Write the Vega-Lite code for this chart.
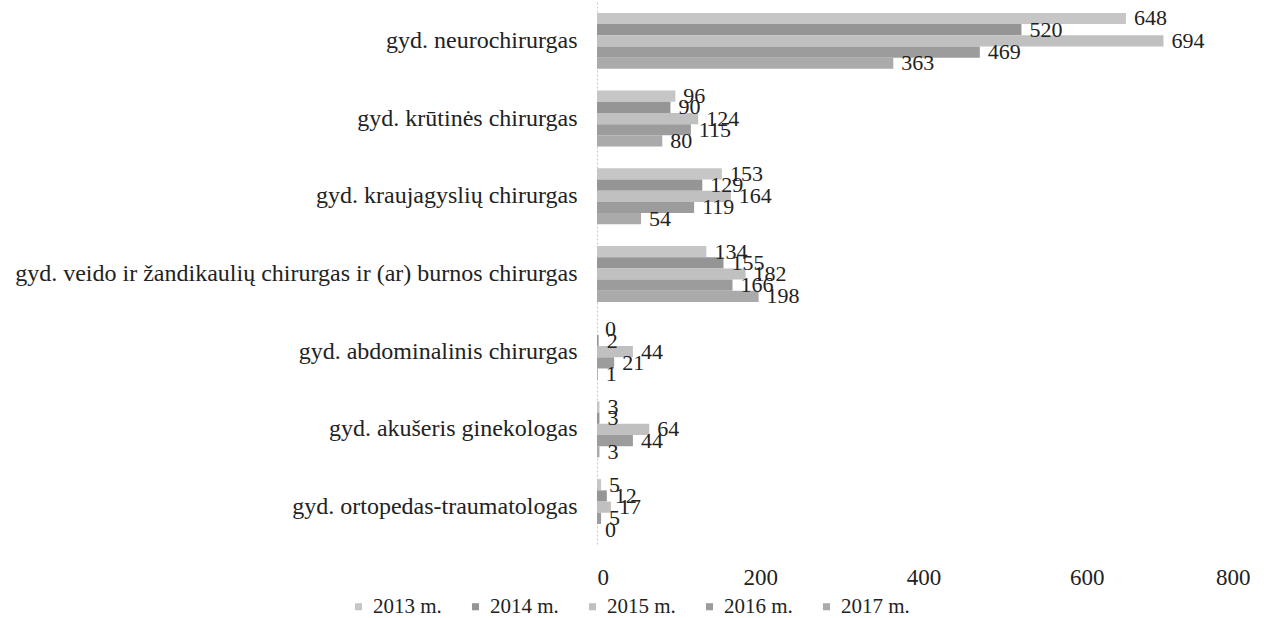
{
  "$schema": "https://vega.github.io/schema/vega-lite/v6.json",
  "autosize": {"type": "none"},
  "padding": {"left": 597, "top": 2, "right": 24, "bottom": 72},
  "width": 653,
  "height": 544,
  "background": "white",
  "config": {
    "font": "Liberation Serif",
    "view": {"stroke": null}
  },
  "data": {
    "values": [
      {"spec": "gyd. neurochirurgas", "year": "2013 m.", "v": 648},
      {"spec": "gyd. neurochirurgas", "year": "2014 m.", "v": 520},
      {"spec": "gyd. neurochirurgas", "year": "2015 m.", "v": 694},
      {"spec": "gyd. neurochirurgas", "year": "2016 m.", "v": 469},
      {"spec": "gyd. neurochirurgas", "year": "2017 m.", "v": 363},
      {"spec": "gyd. krūtinės chirurgas", "year": "2013 m.", "v": 96},
      {"spec": "gyd. krūtinės chirurgas", "year": "2014 m.", "v": 90},
      {"spec": "gyd. krūtinės chirurgas", "year": "2015 m.", "v": 124},
      {"spec": "gyd. krūtinės chirurgas", "year": "2016 m.", "v": 115},
      {"spec": "gyd. krūtinės chirurgas", "year": "2017 m.", "v": 80},
      {"spec": "gyd. kraujagyslių chirurgas", "year": "2013 m.", "v": 153},
      {"spec": "gyd. kraujagyslių chirurgas", "year": "2014 m.", "v": 129},
      {"spec": "gyd. kraujagyslių chirurgas", "year": "2015 m.", "v": 164},
      {"spec": "gyd. kraujagyslių chirurgas", "year": "2016 m.", "v": 119},
      {"spec": "gyd. kraujagyslių chirurgas", "year": "2017 m.", "v": 54},
      {"spec": "gyd. veido ir žandikaulių chirurgas ir (ar) burnos chirurgas", "year": "2013 m.", "v": 134},
      {"spec": "gyd. veido ir žandikaulių chirurgas ir (ar) burnos chirurgas", "year": "2014 m.", "v": 155},
      {"spec": "gyd. veido ir žandikaulių chirurgas ir (ar) burnos chirurgas", "year": "2015 m.", "v": 182},
      {"spec": "gyd. veido ir žandikaulių chirurgas ir (ar) burnos chirurgas", "year": "2016 m.", "v": 166},
      {"spec": "gyd. veido ir žandikaulių chirurgas ir (ar) burnos chirurgas", "year": "2017 m.", "v": 198},
      {"spec": "gyd. abdominalinis chirurgas", "year": "2013 m.", "v": 0},
      {"spec": "gyd. abdominalinis chirurgas", "year": "2014 m.", "v": 2},
      {"spec": "gyd. abdominalinis chirurgas", "year": "2015 m.", "v": 44},
      {"spec": "gyd. abdominalinis chirurgas", "year": "2016 m.", "v": 21},
      {"spec": "gyd. abdominalinis chirurgas", "year": "2017 m.", "v": 1},
      {"spec": "gyd. akušeris ginekologas", "year": "2013 m.", "v": 3},
      {"spec": "gyd. akušeris ginekologas", "year": "2014 m.", "v": 3},
      {"spec": "gyd. akušeris ginekologas", "year": "2015 m.", "v": 64},
      {"spec": "gyd. akušeris ginekologas", "year": "2016 m.", "v": 44},
      {"spec": "gyd. akušeris ginekologas", "year": "2017 m.", "v": 3},
      {"spec": "gyd. ortopedas-traumatologas", "year": "2013 m.", "v": 5},
      {"spec": "gyd. ortopedas-traumatologas", "year": "2014 m.", "v": 12},
      {"spec": "gyd. ortopedas-traumatologas", "year": "2015 m.", "v": 17},
      {"spec": "gyd. ortopedas-traumatologas", "year": "2016 m.", "v": 5},
      {"spec": "gyd. ortopedas-traumatologas", "year": "2017 m.", "v": 0}
    ]
  },
  "encoding": {
    "y": {
      "field": "spec", "type": "nominal", "sort": null, "title": null,
      "scale": {"paddingInner": 0.28, "paddingOuter": 0.14},
      "axis": {"ticks": false, "domain": true, "domainColor": "#c8c8c8", "domainDash": [2, 2], "labelFontSize": 24, "labelColor": "#222", "labelPadding": 20, "labelLimit": 800}
    },
    "yOffset": {"field": "year", "type": "nominal", "sort": null, "scale": {"paddingInner": 0}},
    "x": {
      "field": "v", "type": "quantitative", "title": null,
      "scale": {"domain": [0, 800]},
      "axis": {"values": [0, 200, 400, 600, 800], "grid": false, "domain": false, "ticks": false, "labelFontSize": 23, "labelColor": "#222", "labelPadding": 20}
    }
  },
  "layer": [
    {
      "mark": {"type": "bar", "height": {"band": 1}},
      "encoding": {
        "color": {
          "field": "year", "type": "nominal", "sort": null, "title": null,
          "scale": {"range": ["#c6c6c6", "#959595", "#c0c0c0", "#9c9c9c", "#aaaaaa"]},
          "legend": {"orient": "none", "legendX": -249, "legendY": 594, "direction": "horizontal", "symbolType": "square", "symbolSize": 50, "labelFontSize": 21, "labelColor": "#222", "columnPadding": 23, "labelOffset": 4}
        }
      }
    },
    {
      "mark": {"type": "text", "align": "left", "baseline": "middle", "dx": 8, "fontSize": 22, "color": "#222"},
      "encoding": {"text": {"field": "v", "type": "quantitative"}}
    }
  ]
}
